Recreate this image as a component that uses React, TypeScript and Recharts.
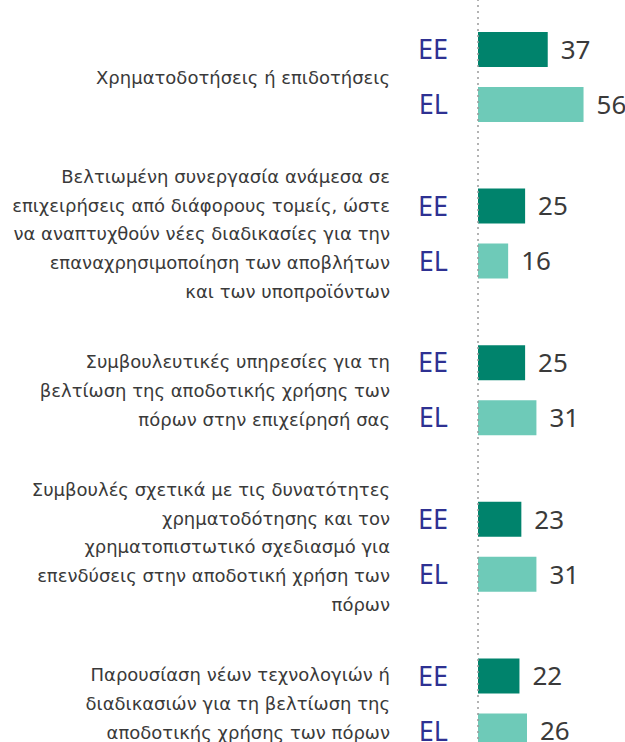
import React from 'react';
import { BarChart, Bar, XAxis, YAxis, LabelList, ReferenceLine } from 'recharts';

const categories: string[] = [
  'Χρηματοδοτήσεις ή επιδοτήσεις',
  'Βελτιωμένη συνεργασία ανάμεσα σε\nεπιχειρήσεις από διάφορους τομείς, ώστε\nνα αναπτυχθούν νέες διαδικασίες για την\nεπαναχρησιμοποίηση των αποβλήτων\nκαι των υποπροϊόντων',
  'Συμβουλευτικές υπηρεσίες για τη\nβελτίωση της αποδοτικής χρήσης των\nπόρων στην επιχείρησή σας',
  'Συμβουλές σχετικά με τις δυνατότητες\nχρηματοδότησης και τον\nχρηματοπιστωτικό σχεδιασμό για\nεπενδύσεις στην αποδοτική χρήση των\nπόρων',
  'Παρουσίαση νέων τεχνολογιών ή\nδιαδικασιών για τη βελτίωση της\nαποδοτικής χρήσης των πόρων',
];
const eeValues: number[] = [37, 25, 25, 23, 22];
const elValues: number[] = [56, 16, 31, 31, 26];
const seriesNames = { ee: 'EE', el: 'EL' };

const data = categories.map((c, i) => ({ category: c, ee: eeValues[i], el: elValues[i] }));

const FONT = '"DejaVu Sans", sans-serif';
const NUM_FONT = '"Noto Sans", sans-serif';
const TEXT = '#3a3a3a';
const LINE_H = 28.7;

const CategoryTick = (props: any) => {
  const { x, y, payload } = props;
  const lines: string[] = String(payload.value).split('\n');
  const startY = y - ((lines.length - 1) * LINE_H) / 2;
  return (
    <text x={x} y={startY} textAnchor="end" fontFamily={FONT} fontSize={18} fill={TEXT}>
      {lines.map((l, i) => (
        <tspan key={i} x={x} dy={i === 0 ? '0.35em' : LINE_H}>
          {l}
        </tspan>
      ))}
    </text>
  );
};

const seriesLabel = (name: string) => (props: any) => {
  const { x, y, height } = props;
  return (
    <text
      x={Number(x) - 30}
      y={Number(y) + Number(height) / 2}
      dy="0.36em"
      textAnchor="end"
      fontFamily={NUM_FONT}
      fontSize={27}
      fill="#2e3192"
    >
      {name}
    </text>
  );
};

const DottedAxis = (props: any) => {
  const { x1, y1, x2, y2 } = props;
  return <line x1={x1} y1={Number(y1) + 11} x2={x2} y2={y2} stroke="#9a9a9a" strokeDasharray="2 4" strokeWidth={1.5} />;
};

export default function App() {
  return (
    <div style={{ position: 'absolute', left: 0, top: 0, width: 625, height: 742, overflow: 'hidden', background: '#fff' }}>
      <div style={{ position: 'relative', top: -1 }}>
        <BarChart
          width={625}
          height={783}
          data={data}
          layout="vertical"
          margin={{ top: 0, right: 0, bottom: 0, left: 0 }}
          barSize={35}
          barGap={20}
        >
          <XAxis type="number" domain={[0, 78]} hide />
          <YAxis
            type="category"
            dataKey="category"
            width={478}
            axisLine={false}
            tickLine={false}
            tickSize={0}
            tickMargin={88}
            tick={<CategoryTick />}
            interval={0}
          />
          <ReferenceLine x={0} shape={<DottedAxis />} />
          <Bar dataKey="ee" fill="#00836c" isAnimationActive={false}>
            <LabelList dataKey="ee" position="right" offset={13} fontSize={26} fill={TEXT} fontFamily={NUM_FONT} />
            <LabelList dataKey="ee" content={seriesLabel(seriesNames.ee)} />
          </Bar>
          <Bar dataKey="el" fill="#6ecab8" isAnimationActive={false}>
            <LabelList dataKey="el" position="right" offset={13} fontSize={26} fill={TEXT} fontFamily={NUM_FONT} />
            <LabelList dataKey="el" content={seriesLabel(seriesNames.el)} />
          </Bar>
        </BarChart>
      </div>
    </div>
  );
}
